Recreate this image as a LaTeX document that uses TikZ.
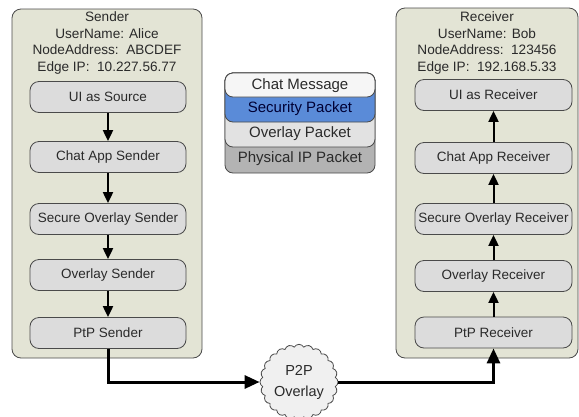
\documentclass[tikz,border=0pt]{standalone}
\usepackage{fontspec}
\setmainfont{Liberation Sans}
\usetikzlibrary{shapes.symbols,arrows.meta}
\definecolor{panelfill}{HTML}{E3E4D5}
\definecolor{boxfill}{HTML}{DCDCDC}
\definecolor{edge}{HTML}{4A4A4A}
\definecolor{secblue}{HTML}{5A8BD8}
\definecolor{ovlgray}{HTML}{E2E2E2}
\definecolor{phygray}{HTML}{B3B3B3}
\definecolor{chatwhite}{HTML}{F6F6F6}
\definecolor{txt}{HTML}{2A2A2A}
\begin{document}
\begin{tikzpicture}[x=1pt,y=-1pt,
  panel/.style={draw=edge, fill=panelfill, rounded corners=9pt, line width=0.8pt},
  layerbox/.style={draw=edge, fill=boxfill, rounded corners=9pt, line width=0.8pt,
    minimum height=31pt, font=\fontsize{13.5}{15}\selectfont, text=txt, inner sep=0pt},
  sbox/.style={layerbox, minimum width=156pt},
  rbox/.style={layerbox, minimum width=157pt},
  flow/.style={line width=2pt, -{Triangle[length=11pt,width=10pt]}},
  link/.style={line width=3pt, -{Triangle[length=15pt,width=13pt]}},
  band/.style={draw=edge, rounded corners=8pt, line width=0.8pt},
  bandtext/.style={font=\fontsize{15}{16}\selectfont, text=txt, inner sep=0pt},
  info/.style={align=center, font=\fontsize{13.6}{16.6}\selectfont, text=txt, inner sep=0pt}
]
\useasboundingbox (0,0) rectangle (579,416);

% panels
\node[panel, minimum width=190pt, minimum height=349pt] (spanel) at (107,183.5) {};
\node[panel, minimum width=182pt, minimum height=350pt] (rpanel) at (487,183) {};

\node[info] (sinfo) at (107,43) {Sender\\UserName: Alice\\NodeAddress:\ \ ABCDEF\\Edge IP:\ \ 10.227.56.77};
\node[info] (rinfo) at (487,43) {Receiver\\UserName: Bob\\NodeAddress:\ \ 123456\\Edge IP:\ \ 192.168.5.33};

% sender stack
\node[sbox] (s1) at (108,97) {UI as Source};
\node[sbox] (s2) at (108,157) {Chat App Sender};
\node[sbox] (s3) at (108,219) {Secure Overlay Sender};
\node[sbox] (s4) at (108,275) {Overlay Sender};
\node[sbox] (s5) at (108,333) {PtP Sender};
\draw[flow] (s1) -- (s2);
\draw[flow] (s2) -- (s3);
\draw[flow] (s3) -- (s4);
\draw[flow] (s4) -- (s5);

% receiver stack
\node[rbox] (r1) at (493.5,95) {UI as Receiver};
\node[rbox] (r2) at (493.5,158) {Chat App Receiver};
\node[rbox] (r3) at (493.5,219) {Secure Overlay Receiver};
\node[rbox] (r4) at (493.5,276) {Overlay Receiver};
\node[rbox] (r5) at (493.5,332.5) {PtP Receiver};
\draw[flow] (r5) -- (r4);
\draw[flow] (r4) -- (r3);
\draw[flow] (r3) -- (r2);
\draw[flow] (r2) -- (r1);

% legend
\draw[band, fill=phygray] (225,73) rectangle (375,173);
\draw[band, fill=ovlgray] (225,73) rectangle (375,147);
\draw[band, fill=secblue] (225,73) rectangle (375,122);
\draw[band, fill=chatwhite] (225,73) rectangle (375,97);
\node[bandtext] (lchat) at (300,86) {Chat Message};
\node[bandtext, text={black!80!blue}] (lsec) at (300,109) {Security Packet};
\node[bandtext] (lovl) at (300,134) {Overlay Packet};
\node[bandtext] (lphy) at (300,159) {Physical IP Packet};

% cloud
\node[cloud, cloud puffs=24, cloud puff arc=120, draw=edge, fill=white!94!black,
  line width=0.8pt, minimum width=78pt, minimum height=70pt, inner sep=0pt,
  align=center, text=txt, font=\fontsize{14.5}{21}\selectfont] (cloud) at (299,382) {P2P\\Overlay};

\draw[link] (s5.south) |- (cloud.west);
\draw[link] (cloud.east) -| (r5.south);
\end{tikzpicture}
\end{document}
